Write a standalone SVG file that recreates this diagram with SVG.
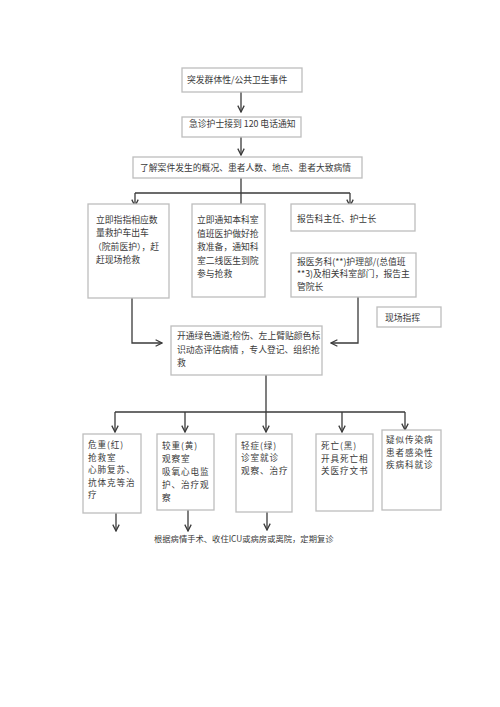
<svg xmlns="http://www.w3.org/2000/svg" width="500" height="707" viewBox="0 0 500 707">
<defs>
<marker id="arr" viewBox="0 0 10 10" refX="9" refY="5" markerWidth="8" markerHeight="8" markerUnits="userSpaceOnUse" orient="auto">
<polyline points="1,1 9,5 1,9" fill="none" stroke="#3a3a3a" stroke-width="1.6"/>
</marker>
</defs>
<style>
.box{fill:#ffffff;stroke:#bdbdbd;stroke-width:1.3}
.t{font-family:"Noto Sans CJK SC","Noto Sans",sans-serif;font-size:8.8px;fill:#3a3a3a}
.tb{font-family:"Noto Sans CJK SC","Noto Sans",sans-serif;font-size:8.6px;letter-spacing:0.9px;fill:#3a3a3a}
.ln{fill:none;stroke:#3a3a3a;stroke-width:1.3}
.ar{fill:none;stroke:#3a3a3a;stroke-width:1.3;marker-end:url(#arr)}
</style>
<rect width="500" height="707" fill="#ffffff"/>
<g id="connectors">
<line class="ar" x1="241" y1="92" x2="241" y2="112"/>
<line class="ar" x1="241" y1="137" x2="241" y2="155"/>
<line class="ln" x1="241" y1="178" x2="241" y2="204"/>
<line class="ln" x1="135" y1="193" x2="350" y2="193"/>
<line class="ar" x1="135" y1="193" x2="135" y2="206"/>
<line class="ar" x1="350" y1="193" x2="350" y2="206"/>
<polyline class="ar" points="132,298 132,343 162,343"/>
<polyline class="ar" points="358,297 358,343 331,343"/>
<line class="ln" x1="266" y1="375" x2="266" y2="412"/>
<line class="ln" x1="115" y1="412" x2="405" y2="412"/>
<line class="ar" x1="115" y1="412" x2="115" y2="432"/>
<line class="ar" x1="185" y1="412" x2="185" y2="432"/>
<line class="ar" x1="266" y1="412" x2="266" y2="432"/>
<line class="ar" x1="342" y1="412" x2="342" y2="432"/>
<line class="ar" x1="405" y1="412" x2="405" y2="430"/>
<line class="ar" x1="116" y1="513" x2="116" y2="531"/>
<line class="ar" x1="188" y1="510" x2="188" y2="531"/>
<line class="ar" x1="267" y1="512" x2="267" y2="530"/>
</g>
<g id="n1"><rect class="box" x="182" y="68" width="120" height="24"/><text class="t" x="187" y="83">突发群体性/公共卫生事件</text></g>
<g id="n2"><rect class="box" x="182" y="117" width="119" height="20"/><text class="t" x="189" y="127">急诊护士接到 120 电话通知</text></g>
<g id="n3"><rect class="box" x="133" y="157" width="229" height="21"/><text class="t" x="140" y="171">了解案件发生的概况、患者人数、地点、患者大致病情</text></g>
<g id="nA"><rect class="box" x="88" y="204" width="81" height="94"/>
<text class="t"><tspan x="96" y="222.5">立即指指相应数</tspan><tspan x="96" y="236">量救护车出车</tspan><tspan x="93" y="249.5">（院前医护），赶</tspan><tspan x="96" y="263">赶现场抢救</tspan></text></g>
<g id="nB"><rect class="box" x="192" y="204" width="73" height="93"/>
<text class="t"><tspan x="197" y="223">立即通知本科室</tspan><tspan x="197" y="236.5">值班医护做好抢</tspan><tspan x="197" y="250">救准备，通知科</tspan><tspan x="197" y="263.5">室二线医生到院</tspan><tspan x="197" y="277">参与抢救</tspan></text></g>
<g id="nC"><rect class="box" x="291" y="204" width="124" height="27"/><text class="t" x="297" y="221.5">报告科主任、护士长</text></g>
<g id="nD"><rect class="box" x="291" y="253" width="125" height="44"/>
<text class="t"><tspan x="297" y="264.5">报医务科(**)护理部/(总值班</tspan><tspan x="297" y="277.3">**3)及相关科室部门，报告主</tspan><tspan x="297" y="290.1">管院长</tspan></text></g>
<g id="nE"><rect class="box" x="377" y="307" width="64" height="20"/><text class="t" x="385" y="320.5">现场指挥</text></g>
<g id="nF"><rect class="box" x="171" y="326" width="151" height="49"/>
<text class="t"><tspan x="177" y="338.5">开通绿色通道;检伤、左上臂贴颜色标</tspan><tspan x="177" y="352.5">识动态评估病情 ，专人登记、组织抢</tspan><tspan x="177" y="366">救</tspan></text></g>
<g id="g1"><rect class="box" x="83" y="434" width="58" height="79"/>
<text class="tb"><tspan x="88" y="448">危重(红)</tspan><tspan x="88" y="460.5">抢救室</tspan><tspan x="88" y="473">心肺复苏、</tspan><tspan x="88" y="485.5">抗体克等治</tspan><tspan x="88" y="498">疗</tspan></text></g>
<g id="g2"><rect class="box" x="157" y="434" width="57" height="76"/>
<text class="tb"><tspan x="162" y="449">较重(黄)</tspan><tspan x="162" y="462">观察室</tspan><tspan x="162" y="475">吸氧心电监</tspan><tspan x="162" y="488">护、治疗观</tspan><tspan x="162" y="501">察</tspan></text></g>
<g id="g3"><rect class="box" x="236" y="434" width="56" height="78"/>
<text class="tb"><tspan x="241" y="448.5">轻症(绿)</tspan><tspan x="241" y="461">诊室就诊</tspan><tspan x="241" y="473.5">观察、治疗</tspan></text></g>
<g id="g4"><rect class="box" x="316" y="434" width="57" height="77"/>
<text class="tb"><tspan x="321" y="448.5">死亡(黑)</tspan><tspan x="321" y="461.5">开具死亡相</tspan><tspan x="321" y="474">关医疗文书</tspan></text></g>
<g id="g5"><rect class="box" x="382" y="430" width="59" height="80"/>
<text class="tb"><tspan x="386" y="443">疑似传染病</tspan><tspan x="386" y="455.5">患者感染性</tspan><tspan x="386" y="468">疾病科就诊</tspan></text></g>
<text class="t" x="154" y="541.5" style="font-size:8.3px">根据病情手术、收住ICU或病房或离院，定期复诊</text>
</svg>
